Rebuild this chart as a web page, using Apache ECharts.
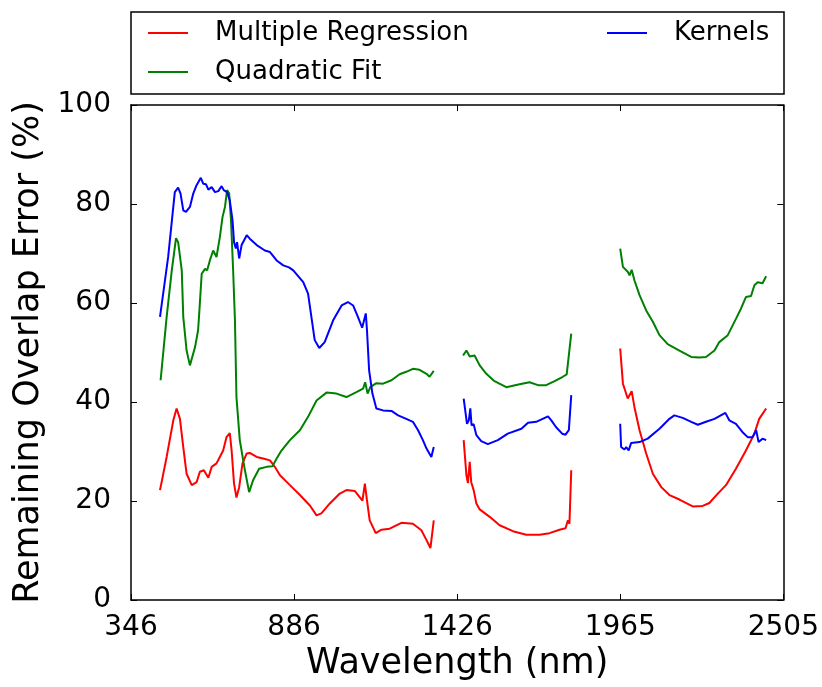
<!DOCTYPE html>
<html>
<head>
<meta charset="utf-8">
<script src="https://cdn.jsdelivr.net/npm/echarts@6/dist/echarts.min.js"></script>
<style>
  html, body { margin: 0; padding: 0; background: #ffffff; }
  #chart { width: 822px; height: 687px; }
</style>
</head>
<body>
<div id="chart"></div>
<script>
// Wavelength axis ticks (nm)
const xTickValues = [346, 885.75, 1425.5, 1965.25, 2505];
const xTickLabels = ['346', '886', '1426', '1965', '2505'];
const yTickValues = [0, 20, 40, 60, 80, 100];

const seriesNames = ['Multiple Regression', 'Quadratic Fit', 'Kernels'];

// Multiple Regression: three spectral windows, null marks the absorption gaps
const mrWavelength = [
  442, 464, 486, 497, 508, 519, 530, 547, 563, 574, 587, 602, 613, 629, 640, 651, 662, 673, 679, 687,
  695, 704, 715, 729, 739, 762, 783, 806, 822, 839, 872, 905, 938, 960, 976, 1004, 1037, 1059, 1087, 1112,
  1120, 1127, 1136, 1156, 1175, 1202, 1241, 1279, 1307, 1324, 1337, 1343, 1348,
  1400,
  1447, 1456, 1461, 1467, 1472, 1480, 1489, 1500, 1533, 1566, 1610, 1654, 1698, 1731, 1764, 1784, 1792, 1797, 1803,
  1880,
  1965, 1974, 1990, 2003, 2012, 2029, 2051, 2073, 2101, 2128, 2161, 2205, 2238, 2260, 2288, 2315, 2348, 2381, 2409, 2425, 2448
];
const mrError = [
  22.2, 28.9, 36.3, 38.7, 36.6, 30.9, 25.5, 23.2, 23.8, 25.9, 26.2, 24.7, 26.9, 27.6, 28.9, 30.2, 32.9, 33.7, 30.2, 23.5,
  20.7, 22.8, 27.6, 29.6, 29.7, 28.9, 28.6, 28.2, 26.9, 25.2, 23.2, 21.2, 19.1, 17.1, 17.5, 19.5, 21.5, 22.2, 22.0, 20.1,
  23.5, 20.1, 16.1, 13.5, 14.2, 14.4, 15.6, 15.4, 14.1, 12.1, 10.5, 10.5, 16.1,
  null,
  32.3, 25.2, 23.6, 27.9, 23.8, 22.2, 19.5, 18.3, 16.8, 15.1, 13.9, 13.2, 13.2, 13.5, 14.2, 14.5, 16.1, 15.4, 26.2,
  null,
  50.8, 43.7, 40.7, 42.2, 39.0, 34.3, 29.6, 25.5, 22.8, 21.2, 20.3, 18.9, 19.0, 19.6, 21.5, 23.2, 26.5, 30.2, 33.6, 36.6, 38.7
];

// Quadratic Fit
const qfWavelength = [
  444, 464, 481, 495, 502, 514, 519, 530, 541, 558, 568, 571, 580, 591, 598, 607, 618, 629, 640, 649,
  657, 664, 671, 677, 684, 690, 695, 706, 723, 737, 750, 770, 795, 814, 828, 844, 872, 905, 932, 960,
  993, 1026, 1059, 1092, 1114, 1121, 1129, 1138, 1158, 1180, 1208, 1235, 1257, 1279, 1301, 1324, 1334, 1348,
  1400,
  1445, 1456, 1467, 1483, 1500, 1522, 1549, 1588, 1632, 1665, 1693, 1720, 1748, 1775, 1788, 1792, 1797, 1803,
  1880,
  1965, 1974, 1990, 1996, 2003, 2012, 2029, 2051, 2073, 2095, 2122, 2161, 2200, 2227, 2249, 2277, 2293, 2321,
  2348, 2365, 2381, 2398, 2409, 2420, 2436, 2448
];
const qfError = [
  44.4, 57.2, 66.6, 73.1, 72.3, 66.6, 57.2, 50.4, 47.4, 51.1, 54.5, 57.2, 65.9, 66.9, 66.6, 68.6, 70.6, 69.3, 73.3, 77.4,
  79.4, 82.8, 82.1, 76.7, 66.6, 56.5, 41.0, 32.3, 26.2, 21.8, 24.2, 26.5, 26.9, 27.0, 28.6, 30.2, 32.3, 34.3, 37.0, 40.3,
  41.9, 41.7, 41.0, 42.0, 42.7, 44.0, 41.7, 43.0, 43.8, 43.7, 44.4, 45.6, 46.1, 46.7, 46.5, 45.7, 45.1, 46.3,
  null,
  49.4, 50.4, 49.2, 49.4, 47.4, 45.7, 44.2, 43.0, 43.6, 44.0, 43.4, 43.4, 44.2, 45.1, 45.6, 47.8, 48.1, 53.8,
  null,
  71.0, 67.3, 66.3, 65.6, 66.7, 64.6, 61.6, 58.5, 56.2, 53.5, 51.7, 50.4, 49.1, 49.0, 49.1, 50.4, 52.1, 53.5,
  56.8, 58.9, 61.2, 61.4, 63.6, 64.2, 64.0, 65.4
];

// Kernels
const kWavelength = [
  442, 469, 491, 502, 510, 519, 528, 541, 552, 563, 577, 585, 594, 602, 613, 624, 635, 646, 653, 664,
  673, 682, 687, 693, 697, 704, 712, 729, 739, 762, 789, 806, 828, 850, 869, 883, 916, 932, 943, 954,
  969, 987, 1015, 1043, 1064, 1081, 1097, 1111, 1123, 1127, 1134, 1145, 1158, 1180, 1208, 1230, 1257, 1279,
  1296, 1312, 1324, 1340, 1348,
  1400,
  1447, 1458, 1464, 1469, 1473, 1480, 1489, 1505, 1527, 1560, 1593, 1638, 1660, 1687, 1726, 1737, 1753, 1773, 1784, 1795, 1803,
  1880,
  1965, 1968, 1979, 1985, 1993, 2001, 2007, 2029, 2056, 2095, 2128, 2144, 2172, 2200, 2222, 2249, 2277, 2313, 2326,
  2348, 2370, 2387, 2403, 2415, 2423, 2436, 2448
];
const kError = [
  57.2, 69.3, 82.4, 83.3, 82.1, 78.7, 78.4, 79.4, 82.1, 83.8, 85.3, 84.1, 84.0, 82.9, 83.4, 82.4, 82.6, 83.6, 82.8, 82.4,
  80.7, 76.7, 72.3, 71.0, 72.3, 69.0, 71.7, 73.7, 73.0, 71.7, 70.6, 70.3, 68.6, 67.6, 67.2, 66.6, 64.2, 61.9, 57.2, 52.5,
  50.9, 52.1, 56.5, 59.5, 60.2, 59.5, 57.2, 55.0, 57.9, 54.5, 46.4, 41.7, 38.7, 38.3, 38.2, 37.3, 36.6, 36.0,
  34.3, 32.3, 30.6, 28.9, 30.9,
  null,
  40.7, 35.6, 36.3, 38.7, 35.3, 35.5, 33.3, 32.1, 31.5, 32.3, 33.6, 34.6, 35.8, 36.0, 37.1, 36.3, 34.9, 33.6, 33.4, 34.3, 41.4,
  null,
  35.6, 30.9, 30.4, 30.9, 30.2, 31.7, 31.6, 31.9, 32.6, 34.6, 36.6, 37.3, 36.8, 36.0, 35.4, 36.0, 36.6, 37.8, 36.3,
  35.6, 33.9, 32.9, 32.9, 34.3, 31.9, 32.6, 32.3
];

const FONT = 'DejaVu Sans';
const BLACK = '#000000';

function pairs(xs, ys) {
  return xs.map((x, i) => [x, ys[i] === null ? '-' : ys[i]]);
}

function xLabel(v) {
  let best = 0;
  for (let i = 1; i < xTickValues.length; i++) {
    if (Math.abs(xTickValues[i] - v) < Math.abs(xTickValues[best] - v)) best = i;
  }
  return xTickLabels[best];
}

const tickStyle = { show: true, inside: true, length: 6, lineStyle: { color: BLACK, width: 1 } };
const spine = { show: true, onZero: false, lineStyle: { color: BLACK, width: 1.5 } };

function legendFor(name, left, top) {
  return {
    data: [name],
    left: left,
    top: top,
    orient: 'horizontal',
    padding: 0,
    icon: 'rect',
    itemWidth: 40,
    itemHeight: 2,
    selectedMode: false,
    textStyle: { fontFamily: FONT, fontSize: 26, color: BLACK, lineHeight: 30, padding: [0, 0, 0, 22] }
  };
}

const chart = echarts.init(document.getElementById('chart'), null, { renderer: 'canvas' });

chart.setOption({
  animation: false,
  backgroundColor: '#ffffff',
  textStyle: { fontFamily: FONT },
  grid: { left: 131, right: 38, top: 105, bottom: 87, containLabel: false },
  legend: [
    legendFor(seriesNames[0], 148, 18),
    legendFor(seriesNames[1], 148, 57),
    legendFor(seriesNames[2], 607, 18)
  ],
  graphic: [{
    type: 'rect',
    shape: { x: 131, y: 12, width: 653, height: 82 },
    style: { fill: null, stroke: BLACK, lineWidth: 1.5 },
    silent: true
  }],
  xAxis: [
    {
      type: 'value', position: 'bottom', min: xTickValues[0], max: xTickValues[xTickValues.length - 1],
      axisLine: spine,
      axisTick: Object.assign({ customValues: xTickValues }, tickStyle),
      axisLabel: {
        customValues: xTickValues, formatter: xLabel, showMinLabel: true, showMaxLabel: true,
        fontFamily: FONT, fontSize: 28, color: BLACK, margin: 14
      },
      splitLine: { show: false },
      name: 'Wavelength (nm)', nameLocation: 'middle', nameGap: 46,
      nameTextStyle: { fontFamily: FONT, fontSize: 35, color: BLACK }
    },
    {
      type: 'value', position: 'top', min: xTickValues[0], max: xTickValues[xTickValues.length - 1],
      axisLine: spine,
      axisTick: Object.assign({ customValues: xTickValues }, tickStyle),
      axisLabel: { show: false },
      splitLine: { show: false }
    }
  ],
  yAxis: [
    {
      type: 'value', position: 'left', min: 0, max: 100, interval: 20,
      axisLine: spine,
      axisTick: tickStyle,
      axisLabel: { fontFamily: FONT, fontSize: 28, color: BLACK, margin: 20, showMinLabel: true, showMaxLabel: true },
      splitLine: { show: false },
      name: 'Remaining Overlap Error (%)', nameLocation: 'middle', nameGap: 80,
      nameTextStyle: { fontFamily: FONT, fontSize: 35, color: BLACK }
    },
    {
      type: 'value', position: 'right', min: 0, max: 100, interval: 20,
      axisLine: spine,
      axisTick: tickStyle,
      axisLabel: { show: false },
      splitLine: { show: false }
    }
  ],
  series: [
    {
      name: seriesNames[0], type: 'line', xAxisIndex: 0, yAxisIndex: 0,
      data: pairs(mrWavelength, mrError), showSymbol: false, connectNulls: false,
      color: '#ff0000', lineStyle: { color: '#ff0000', width: 2 }
    },
    {
      name: seriesNames[1], type: 'line', xAxisIndex: 0, yAxisIndex: 0,
      data: pairs(qfWavelength, qfError), showSymbol: false, connectNulls: false,
      color: '#008000', lineStyle: { color: '#008000', width: 2 }
    },
    {
      name: seriesNames[2], type: 'line', xAxisIndex: 0, yAxisIndex: 0,
      data: pairs(kWavelength, kError), showSymbol: false, connectNulls: false,
      color: '#0000ff', lineStyle: { color: '#0000ff', width: 2 }
    }
  ]
});
</script>
</body>
</html>
